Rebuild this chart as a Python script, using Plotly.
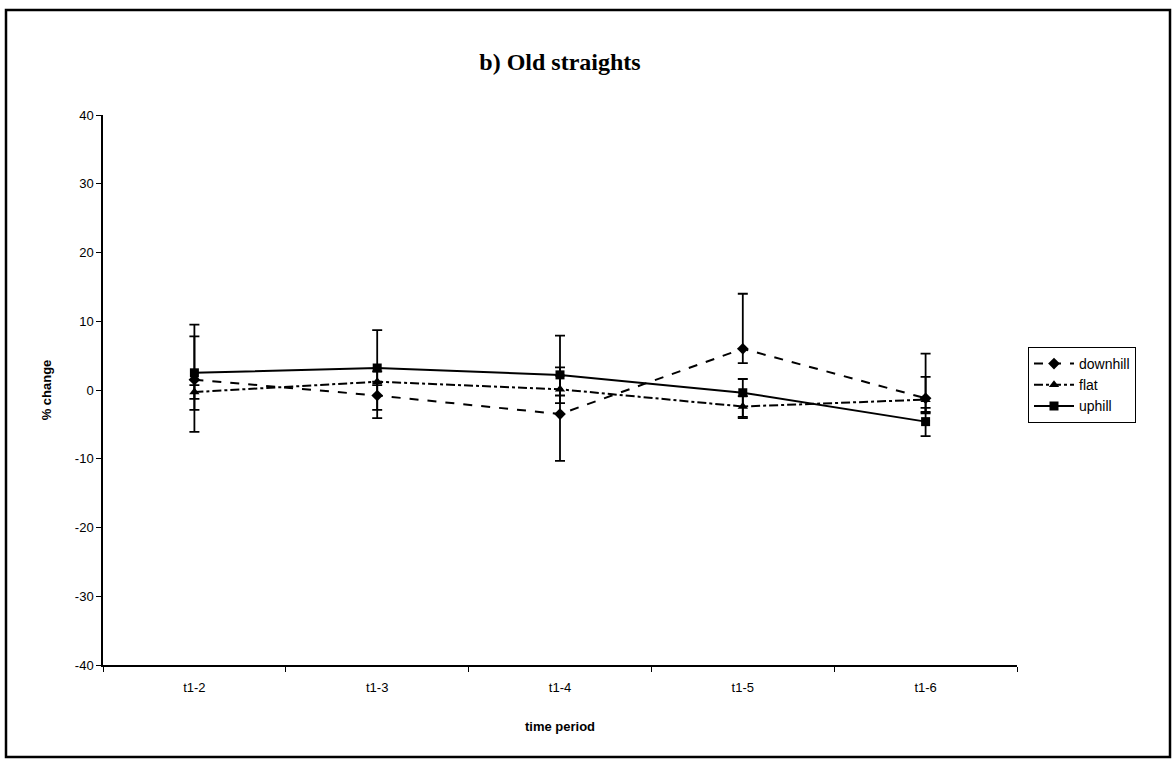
import plotly.graph_objects as go

periods = ["t1-2", "t1-3", "t1-4", "t1-5", "t1-6"]

downhill = [1.5, -0.8, -3.5, 6.0, -1.2]
downhill_err_plus = [6.3, 2.0, 6.8, 8.0, 3.1]
downhill_err_minus = [7.6, 3.3, 6.8, 2.1, 2.0]

flat = [-0.3, 1.2, 0.1, -2.4, -1.4]
flat_err_plus = [1.0, 1.5, 2.0, 1.5, 6.7]
flat_err_minus = [1.0, 4.1, 2.0, 1.5, 2.0]

uphill = [2.5, 3.2, 2.2, -0.4, -4.6]
uphill_err_plus = [7.0, 5.5, 5.7, 2.0, 2.0]
uphill_err_minus = [5.4, 2.5, 3.0, 3.7, 2.1]

y_ticks = [-40, -30, -20, -10, 0, 10, 20, 30, 40]
y_tick_text = ["-40", "-30", "-20", "-10", "0", "10", "20", "30", "40"]

series = [
    ("downhill", downhill, downhill_err_plus, downhill_err_minus, "dash", "diamond"),
    ("flat", flat, flat_err_plus, flat_err_minus, "dashdot", "triangle-up"),
    ("uphill", uphill, uphill_err_plus, uphill_err_minus, "solid", "square"),
]

# plot area in pixels: x 103..1017, y 115..665
L, R, T, B = 103, 1017, 115, 665
W, H = 1176, 761
PW, PH = R - L, B - T

fig = go.Figure()
for name, vals, ep, em, dash, sym in series:
    fig.add_trace(go.Scatter(
        x=periods, y=vals, name=name, mode="lines+markers",
        line=dict(color="black", width=2, dash=dash),
        marker=dict(symbol=sym, size=9, color="black"),
        error_y=dict(type="data", symmetric=False, array=ep, arrayminus=em,
                     color="black", thickness=1.8, width=5),
    ))

fig.update_layout(
    width=W, height=H,
    paper_bgcolor="white", plot_bgcolor="white",
    margin=dict(l=L, r=W - R, t=T, b=H - B),
    title=dict(text="<b>b) Old straights</b>", x=(L + R) / 2 / W, xanchor="center",
               y=1 - 62 / H, yanchor="middle",
               font=dict(family="Liberation Serif", size=24, color="black")),
    font=dict(family="Liberation Sans", size=13, color="black"),
    legend=dict(x=(1028 - L) / PW, xanchor="left", y=(B - 347) / PH, yanchor="top",
                bordercolor="black", borderwidth=1, bgcolor="white",
                font=dict(size=14), itemwidth=40),
    showlegend=True,
)
fig.update_xaxes(
    range=[-0.5, 4.5],
    showline=True, linecolor="black", linewidth=1.5, mirror=False,
    ticks="outside", ticklen=5, tickcolor="black", tickson="boundaries",
    ticklabelstandoff=10,
    showgrid=False, zeroline=False,
    title=dict(text="<b>time period</b>", font=dict(size=13), standoff=28),
)
fig.update_yaxes(
    range=[-40, 40], tickvals=y_ticks, ticktext=y_tick_text,
    showline=True, linecolor="black", linewidth=1.5,
    ticks="outside", ticklen=5, tickcolor="black",
    showgrid=False, zeroline=False,
    title=dict(text="<b>% change</b>", font=dict(size=13), standoff=20),
)

# outer frame around the whole chart area
fig.add_shape(type="rect", xref="paper", yref="paper",
              x0=(6 - L) / PW, x1=(1170 - L) / PW, y0=(B - 757) / PH, y1=(B - 10) / PH,
              line=dict(color="black", width=2.5), fillcolor="rgba(0,0,0,0)")

fig.write_html("out.html")
